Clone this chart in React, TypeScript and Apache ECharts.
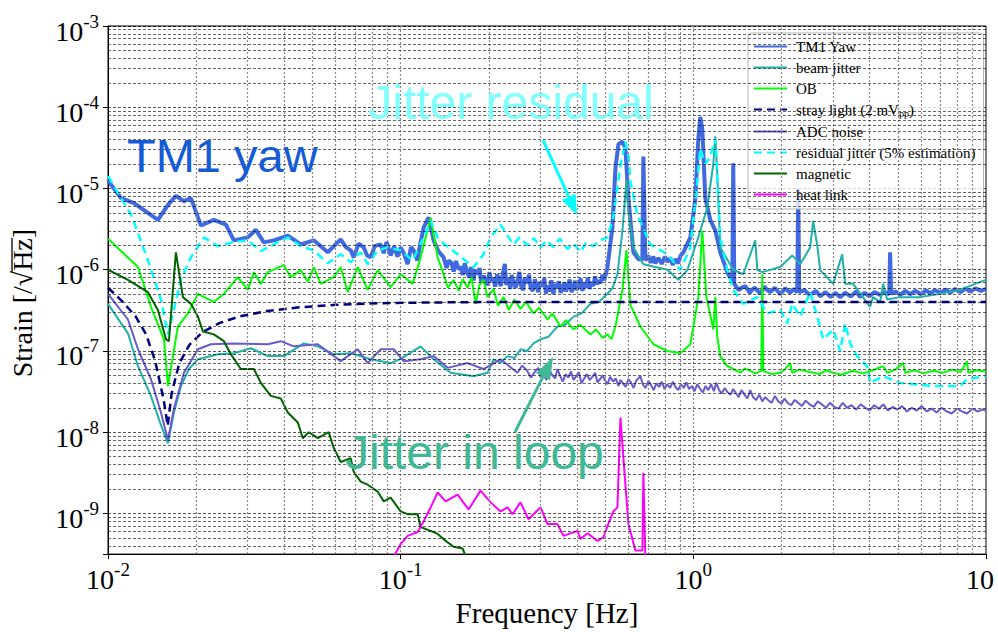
import React, { useEffect, useRef } from 'react';
import * as echarts from 'echarts';

// ---------------- data (frequency [Hz], strain [1/sqrt(Hz)]) ----------------
const tm1Yaw: [number, number][] = [
  [0.01, 1.25e-5], [0.01108, 7.6e-6], [0.01227, 6.6e-6], [0.01481, 4.1e-6], [0.01603, 6.3e-6],
  [0.01706, 8.1e-6], [0.01817, 7.0e-6], [0.0192, 7.6e-6], [0.02077, 3.5e-6], [0.023, 4.1e-6],
  [0.02528, 3.6e-6], [0.02692, 2.3e-6], [0.03005, 2.5e-6], [0.032, 3.1e-6], [0.03407, 2.17e-6],
  [0.03686, 2.3e-6], [0.04115, 2.63e-6], [0.04558, 2.05e-6], [0.05048, 2.3e-6], [0.05635, 1.64e-6],
  [0.0624, 2.36e-6], [0.065, 1.9e-6], [0.06751, 1.73e-6], [0.06911, 1.42e-6], [0.0718, 2.1e-6],
  [0.0748, 1.88e-6], [0.0768, 1.5e-6], [0.07898, 1.42e-6], [0.0815, 1.95e-6], [0.08545, 2.05e-6],
  [0.0875, 1.6e-6], [0.0895, 2.2e-6], [0.09245, 1.5e-6], [0.095, 1.95e-6], [0.0975, 1.45e-6],
  [0.1, 1.88e-6], [0.1025, 1.6e-6], [0.1056, 1.17e-6], [0.1085, 1.9e-6], [0.1108, 1.73e-6],
  [0.114, 1.3e-6], [0.117, 2.2e-6], [0.1198, 3.3e-6], [0.1246, 4.4e-6], [0.1296, 2.3e-6],
  [0.1345, 1.7e-6], [0.1402, 1.42e-6], [0.1435, 1.05e-6], [0.146, 1.3e-6], [0.149, 1.22e-6],
  [0.1517, 9.5e-7], [0.1545, 1.28e-6], [0.158, 1.0e-6], [0.16, 1.1e-6], [0.163, 8.6e-7],
  [0.1655, 1.2e-6], [0.169, 9.2e-7], [0.1715, 8.0e-7], [0.174, 1.08e-6], [0.1775, 7.4e-7],
  [0.1795, 9.8e-7], [0.183, 8.8e-7], [0.186, 1.05e-6], [0.1885, 7.0e-7], [0.192, 8.4e-7],
  [0.1945, 7.8e-7], [0.198, 6.4e-7], [0.201, 9.3e-7], [0.2045, 7.1e-7], [0.207, 8.0e-7],
  [0.2105, 6.2e-7], [0.2135, 8.8e-7], [0.2165, 7.6e-7], [0.22, 6.3e-7], [0.2235, 9.0e-7],
  [0.227, 1.18e-6], [0.2295, 6.5e-7], [0.233, 7.8e-7], [0.237, 5.8e-7], [0.2395, 8.6e-7],
  [0.243, 7.0e-7], [0.247, 6.0e-7], [0.2505, 7.3e-7], [0.2545, 9.4e-7], [0.2575, 6.4e-7],
  [0.262, 5.6e-7], [0.2655, 7.9e-7], [0.27, 6.8e-7], [0.2745, 8.7e-7], [0.278, 6.0e-7],
  [0.283, 5.5e-7], [0.2875, 7.6e-7], [0.291, 6.6e-7], [0.2955, 5.3e-7], [0.3, 7.1e-7],
  [0.305, 6.2e-7], [0.3095, 7.9e-7], [0.3135, 5.1e-7], [0.318, 6.4e-7], [0.323, 5.4e-7],
  [0.327, 7.4e-7], [0.3325, 5.0e-7], [0.3375, 6.7e-7], [0.342, 5.9e-7], [0.347, 7.2e-7],
  [0.352, 5.2e-7], [0.357, 5.8e-7], [0.3625, 7.0e-7], [0.367, 5.4e-7], [0.3725, 6.3e-7],
  [0.378, 7.6e-7], [0.3835, 5.3e-7], [0.389, 6.1e-7], [0.3945, 7.3e-7], [0.4, 5.6e-7],
  [0.406, 6.6e-7], [0.412, 7.8e-7], [0.418, 5.5e-7], [0.424, 6.9e-7], [0.43, 6.0e-7],
  [0.436, 8.0e-7], [0.4425, 5.8e-7], [0.449, 7.1e-7], [0.455, 6.3e-7], [0.4615, 8.3e-7],
  [0.468, 6.6e-7], [0.475, 7.4e-7], [0.482, 6.8e-7], [0.489, 8.7e-7], [0.496, 7.4e-7],
  [0.503, 9.0e-7], [0.5087, 1.08e-6], [0.529, 3.3e-6], [0.5418, 1.77e-5], [0.5546, 3.5e-5],
  [0.5724, 3.77e-5], [0.5861, 3.1e-5], [0.6, 7.6e-6], [0.624, 1.64e-6], [0.649, 1.35e-6],
  [0.6697, 1.35e-6], [0.675, 2.48e-5], [0.6857, 1.3e-6], [0.7, 1.5e-6], [0.715, 1.22e-6],
  [0.73, 1.45e-6], [0.7419, 1.2e-6], [0.76, 1.4e-6], [0.78, 1.18e-6], [0.8, 1.45e-6],
  [0.8153, 1.25e-6], [0.835, 1.4e-6], [0.85, 1.15e-6], [0.87, 1.35e-6], [0.8888, 1.2e-6],
  [0.905, 1.5e-6], [0.9245, 1.64e-6], [0.9768, 2.5e-6], [1.016, 7.6e-6], [1.04, 4.1e-5],
  [1.056, 7.6e-5], [1.073, 5.4e-5], [1.099, 7.6e-6], [1.143, 4.1e-6], [1.189, 3.03e-6],
  [1.236, 1.64e-6], [1.306, 9.35e-7], [1.359, 7.1e-7], [1.369, 2.04e-5], [1.38, 6.7e-7],
  [1.4, 6.2e-7], [1.43, 5.6e-7], [1.45, 5.9e-7], [1.505, 6.3e-7], [1.56, 5.2e-7],
  [1.59, 5.7e-7], [1.62, 6.0e-7], [1.693, 5.1e-7], [1.75, 6.2e-7], [1.79, 5.6e-7],
  [1.831, 5.3e-7], [1.9, 6.0e-7], [1.981, 5.0e-7], [2.02, 5.4e-7], [2.06, 5.9e-7],
  [2.143, 5.2e-7], [2.2, 5.8e-7], [2.265, 5.3e-7], [2.282, 1.01e-5], [2.3, 5.3e-7],
  [2.4, 5.6e-7], [2.45, 5.2e-7], [2.507, 4.9e-7], [2.62, 5.5e-7], [2.72, 4.7e-7],
  [2.822, 5.3e-7], [2.88, 5.0e-7], [2.95, 4.6e-7], [3.05, 5.2e-7], [3.175, 4.6e-7],
  [3.3, 5.2e-7], [3.45, 4.7e-7], [3.52, 5.0e-7], [3.6, 5.4e-7], [3.715, 4.6e-7],
  [3.85, 5.2e-7], [4.0, 4.7e-7], [4.15, 5.3e-7], [4.347, 4.9e-7], [4.5, 5.3e-7],
  [4.67, 5.0e-7], [4.703, 1.64e-6], [4.74, 5.05e-7], [4.9, 5.4e-7], [5.1, 4.9e-7],
  [5.3, 5.5e-7], [5.504, 5.0e-7], [5.75, 5.5e-7], [6.0, 5.0e-7], [6.25, 5.6e-7],
  [6.44, 5.1e-7], [6.7, 5.6e-7], [7.0, 5.2e-7], [7.3, 5.7e-7], [7.536, 5.2e-7],
  [7.85, 5.8e-7], [8.2, 5.3e-7], [8.5, 5.9e-7], [8.82, 5.4e-7], [9.2, 5.9e-7],
  [9.6, 5.5e-7], [10, 5.8e-7],
];

const beamJitter: [number, number][] = [
  [0.01, 3.8e-7], [0.0117, 1.65e-7], [0.01266, 6.5e-8], [0.01402, 2.8e-8], [0.01517, 1.22e-8],
  [0.01603, 7.3e-9], [0.0168, 1.75e-8], [0.01775, 3.7e-8], [0.0189, 6.0e-8], [0.02029, 7.9e-8],
  [0.02374, 9.1e-8], [0.02692, 9.4e-8], [0.03077, 1.08e-7], [0.03516, 8.65e-8], [0.03988, 8.65e-8],
  [0.04667, 1.24e-7], [0.05209, 1.14e-7], [0.05906, 9.1e-8], [0.06751, 9.4e-8], [0.07898, 7.9e-8],
  [0.09245, 7.1e-8], [0.1, 8.0e-8], [0.117, 1.14e-7], [0.1296, 7.9e-8], [0.1481, 5.4e-8],
  [0.1775, 4.9e-8], [0.1982, 5.4e-8], [0.2077, 7.9e-8], [0.22, 7.2e-8], [0.2318, 8.65e-8],
  [0.245, 8.2e-8], [0.2567, 1.05e-7], [0.27, 1.0e-7], [0.285, 1.25e-7], [0.3005, 1.39e-7],
  [0.32, 1.5e-7], [0.3434, 2.0e-7], [0.365, 2.1e-7], [0.3895, 2.65e-7], [0.415, 2.9e-7],
  [0.4452, 3.8e-7], [0.475, 4.0e-7], [0.5087, 5.05e-7], [0.53, 6.0e-7], [0.5504, 8.8e-7],
  [0.5724, 3.0e-6], [0.5907, 1.25e-5], [0.6, 5.0e-6], [0.624, 1.88e-6], [0.675, 1.17e-6],
  [0.8153, 1.0e-6], [0.8888, 7.5e-7], [0.9539, 9.9e-7], [1.032, 2.3e-6], [1.056, 3.03e-6],
  [1.116, 5.8e-6], [1.17, 2.0e-5], [1.189, 4.4e-5], [1.207, 1.5e-5], [1.236, 1.88e-6],
  [1.369, 1.0e-6], [1.481, 8.8e-7], [1.628, 2.3e-6], [1.654, 9.9e-7], [1.72, 9.35e-7],
  [1.981, 1.08e-6], [2.177, 1.5e-6], [2.318, 1.17e-6], [2.507, 1.88e-6], [2.567, 4.0e-6],
  [2.65, 2.0e-6], [2.713, 9.9e-7], [3.005, 6.7e-7], [3.225, 1.55e-6], [3.302, 6.7e-7],
  [3.516, 6.7e-7], [4.019, 3.5e-7], [4.115, 4.6e-7], [4.347, 4.0e-7], [4.452, 6.7e-7],
  [4.593, 4.3e-7], [5.087, 4.6e-7], [5.953, 4.6e-7], [6.966, 5.05e-7], [8.153, 5.65e-7],
  [9.174, 6.7e-7], [10, 7.5e-7],
];

const obNoise: [number, number][] = [
  [0.01, 2.4e-6], [0.01266, 1.08e-6], [0.01402, 3.5e-7], [0.01553, 1.39e-7], [0.01603, 3.7e-8],
  [0.01733, 2.0e-7], [0.01875, 2.9e-7], [0.02029, 5.05e-7], [0.023, 4.0e-7], [0.02489, 5.05e-7],
  [0.02778, 8.1e-7], [0.03005, 5.65e-7], [0.0315, 9.35e-7], [0.03328, 6.7e-7], [0.03516, 9.35e-7],
  [0.03988, 1.14e-6], [0.04212, 8.1e-7], [0.04558, 9.9e-7], [0.04815, 7.1e-7], [0.05048, 1.08e-6],
  [0.05333, 6.7e-7], [0.05906, 8.1e-7], [0.0624, 1.08e-6], [0.06594, 5.3e-7], [0.06911, 8.1e-7],
  [0.07133, 1.08e-6], [0.07715, 5.65e-7], [0.08346, 9.9e-7], [0.09245, 6.1e-7], [0.1, 8.8e-7],
  [0.1099, 6.7e-7], [0.117, 1.42e-6], [0.1266, 4.36e-6], [0.1338, 1.42e-6], [0.1402, 8.8e-7],
  [0.145, 6.0e-7], [0.1517, 7.5e-7], [0.158, 5.5e-7], [0.163, 7.7e-7], [0.1693, 6.0e-7],
  [0.1745, 8.1e-7], [0.1803, 3.8e-7], [0.186, 6.5e-7], [0.192, 7.5e-7], [0.198, 4.6e-7],
  [0.2077, 5.8e-7], [0.215, 3.6e-7], [0.2246, 4.6e-7], [0.234, 3.2e-7], [0.245, 4.3e-7],
  [0.2567, 3.3e-7], [0.268, 4.0e-7], [0.2844, 2.9e-7], [0.297, 3.4e-7], [0.3175, 2.44e-7],
  [0.33, 2.9e-7], [0.3516, 2.0e-7], [0.367, 2.4e-7], [0.3895, 1.84e-7], [0.41, 2.1e-7],
  [0.4452, 1.6e-7], [0.465, 1.85e-7], [0.49, 1.45e-7], [0.5087, 1.6e-7], [0.525, 1.4e-7],
  [0.5418, 2.0e-7], [0.5724, 5.65e-7], [0.5907, 1.75e-6], [0.6095, 3.7e-7], [0.6592, 2.0e-7],
  [0.7303, 1.21e-7], [0.8153, 1.0e-7], [0.9029, 9.4e-8], [0.9768, 1.21e-7], [1.04, 4.6e-7],
  [1.073, 3.03e-6], [1.108, 4.6e-7], [1.17, 1.84e-7], [1.189, 4.6e-7], [1.207, 1.5e-7],
  [1.236, 8.65e-8], [1.3, 6.6e-8], [1.369, 6.0e-8], [1.45, 5.4e-8], [1.5, 6.1e-8],
  [1.565, 5.7e-8], [1.63, 5.3e-8], [1.707, 5.7e-8], [1.72, 8.8e-7], [1.734, 5.7e-8],
  [1.85, 5.2e-8], [1.981, 5.4e-8], [2.05, 5.9e-8], [2.143, 7.1e-8], [2.177, 5.4e-8],
  [2.3, 5.9e-8], [2.5, 5.5e-8], [2.7, 5.2e-8], [2.85, 5.8e-8], [3.0, 5.4e-8],
  [3.2, 5.1e-8], [3.5, 5.7e-8], [3.8, 5.3e-8], [4.1, 5.8e-8], [4.452, 6.5e-8],
  [4.6, 5.4e-8], [4.9, 5.9e-8], [5.209, 7.1e-8], [5.29, 5.4e-8], [5.7, 5.8e-8],
  [6.1, 5.3e-8], [6.592, 5.7e-8], [7.1, 5.4e-8], [7.7, 5.9e-8], [8.2, 5.5e-8],
  [8.612, 7.5e-8], [8.7, 5.4e-8], [9.3, 5.8e-8], [10, 5.6e-8],
];

const strayLight: [number, number][] = [
  [0.01, 6.0e-7], [0.0111, 4.2e-7], [0.0124, 2.7e-7], [0.0135, 1.6e-7], [0.0145, 7.5e-8],
  [0.0155, 2.5e-8], [0.016, 1.2e-8], [0.0165, 3.0e-8], [0.0175, 7.0e-8], [0.019, 1.2e-7],
  [0.021, 1.7e-7], [0.024, 2.2e-7], [0.028, 2.65e-7], [0.035, 3.1e-7], [0.045, 3.45e-7],
  [0.06, 3.7e-7], [0.08, 3.85e-7], [0.12, 3.95e-7], [0.2, 4.0e-7], [10, 4.0e-7],
];

const adcNoise: [number, number][] = [
  [0.01, 5.05e-7], [0.0117, 2.44e-7], [0.01266, 1.05e-7], [0.01402, 4.5e-8], [0.01517, 1.75e-8],
  [0.01603, 8.0e-9], [0.0168, 1.96e-8], [0.01817, 5.4e-8], [0.02029, 1.05e-7], [0.02246, 1.21e-7],
  [0.02692, 1.24e-7], [0.03516, 1.21e-7], [0.03895, 1.32e-7], [0.04313, 1.14e-7], [0.05209, 1.21e-7],
  [0.0624, 7.5e-8], [0.07133, 1.05e-7], [0.07715, 7.1e-8], [0.08545, 1.05e-7], [0.09465, 1.05e-7],
  [0.1024, 7.5e-8], [0.117, 7.9e-8], [0.1296, 8.65e-8], [0.1447, 6.2e-8], [0.1693, 7.1e-8],
  [0.192, 6.0e-8], [0.2194, 7.9e-8], [0.2507, 5.4e-8], [0.26, 6.6e-8], [0.27, 5.8e-8],
  [0.2785, 4.7e-8], [0.287, 5.5e-8], [0.295, 6.2e-8], [0.3005, 4.8e-8], [0.307, 5.1e-8],
  [0.315, 4.4e-8], [0.322, 5.9e-8], [0.33, 5.0e-8], [0.337, 4.6e-8], [0.3434, 6.0e-8],
  [0.351, 4.9e-8], [0.358, 4.2e-8], [0.366, 5.2e-8], [0.374, 4.7e-8], [0.382, 5.6e-8],
  [0.3895, 4.4e-8], [0.398, 4.9e-8], [0.406, 5.5e-8], [0.415, 4.0e-8], [0.424, 4.6e-8],
  [0.433, 5.2e-8], [0.442, 4.4e-8], [0.452, 4.8e-8], [0.462, 5.4e-8], [0.4703, 4.1e-8],
  [0.48, 4.5e-8], [0.49, 5.0e-8], [0.5, 4.3e-8], [0.5087, 3.9e-8], [0.52, 4.8e-8],
  [0.532, 4.2e-8], [0.543, 4.6e-8], [0.555, 3.7e-8], [0.5635, 4.4e-8], [0.575, 4.0e-8],
  [0.587, 3.6e-8], [0.6, 4.5e-8], [0.612, 4.1e-8], [0.625, 3.5e-8], [0.638, 4.3e-8],
  [0.6592, 4.9e-8], [0.672, 3.9e-8], [0.686, 3.5e-8], [0.702, 4.3e-8], [0.717, 3.8e-8],
  [0.732, 3.3e-8], [0.748, 4.0e-8], [0.764, 3.6e-8], [0.78, 4.2e-8], [0.797, 3.4e-8],
  [0.8153, 3.9e-8], [0.833, 3.5e-8], [0.851, 4.2e-8], [0.869, 3.6e-8], [0.888, 3.3e-8],
  [0.907, 3.9e-8], [0.927, 3.5e-8], [0.947, 4.1e-8], [0.967, 3.4e-8], [0.988, 3.7e-8],
  [1.01, 3.2e-8], [1.032, 3.9e-8], [1.056, 3.4e-8], [1.078, 3.1e-8], [1.1, 3.7e-8],
  [1.125, 3.3e-8], [1.15, 3.9e-8], [1.175, 3.2e-8], [1.198, 4.05e-8], [1.225, 3.3e-8],
  [1.25, 3.0e-8], [1.28, 3.5e-8], [1.31, 3.1e-8], [1.34, 2.9e-8], [1.369, 3.4e-8],
  [1.4, 3.0e-8], [1.43, 2.7e-8], [1.46, 3.3e-8], [1.495, 2.9e-8], [1.53, 2.6e-8],
  [1.565, 3.3e-8], [1.6, 2.7e-8], [1.64, 2.5e-8], [1.68, 2.9e-8], [1.72, 2.4e-8],
  [1.76, 2.7e-8], [1.8, 2.5e-8], [1.85, 2.3e-8], [1.9, 2.8e-8], [1.95, 2.4e-8],
  [2.0, 2.25e-8], [2.05, 2.6e-8], [2.1, 2.3e-8], [2.16, 2.15e-8], [2.22, 2.5e-8],
  [2.28, 2.3e-8], [2.35, 2.1e-8], [2.42, 2.45e-8], [2.5, 2.2e-8], [2.58, 2.05e-8],
  [2.66, 2.4e-8], [2.75, 2.2e-8], [2.84, 2.0e-8], [2.93, 2.3e-8], [3.03, 2.05e-8],
  [3.13, 1.95e-8], [3.24, 2.3e-8], [3.35, 2.0e-8], [3.47, 2.15e-8], [3.6, 1.9e-8],
  [3.73, 2.2e-8], [3.87, 2.0e-8], [4.0, 1.85e-8], [4.15, 2.15e-8], [4.3, 1.95e-8],
  [4.46, 2.2e-8], [4.62, 1.85e-8], [4.8, 2.05e-8], [4.98, 1.9e-8], [5.17, 2.1e-8],
  [5.37, 1.8e-8], [5.58, 2.0e-8], [5.8, 1.85e-8], [6.03, 2.1e-8], [6.27, 1.8e-8],
  [6.52, 1.95e-8], [6.78, 1.75e-8], [7.05, 2.0e-8], [7.34, 1.8e-8], [7.64, 1.7e-8],
  [7.95, 1.95e-8], [8.28, 1.8e-8], [8.62, 1.7e-8], [8.98, 1.95e-8], [9.35, 1.8e-8],
  [9.7, 1.9e-8], [10, 1.85e-8],
];

const residualJitter: [number, number][] = [
  [0.01, 1.42e-5], [0.012, 4.75e-6], [0.01369, 1.31e-6], [0.01517, 4.3e-7], [0.01603, 1.6e-7],
  [0.01667, 2.9e-7], [0.01775, 7.6e-7], [0.0192, 1.42e-6], [0.02127, 2.5e-6], [0.02374, 1.95e-6],
  [0.02692, 2.2e-6], [0.03005, 2.3e-6], [0.03328, 1.7e-6], [0.03686, 2.05e-6], [0.04115, 2.5e-6],
  [0.04558, 1.95e-6], [0.05048, 1.73e-6], [0.05635, 1.2e-6], [0.0624, 1.55e-6], [0.06751, 1.24e-6],
  [0.07303, 1.64e-6], [0.07715, 1.17e-6], [0.08346, 1.73e-6], [0.09029, 1.88e-6], [0.1, 1.73e-6],
  [0.1099, 1.3e-6], [0.1198, 2.5e-6], [0.1266, 4.0e-6], [0.1338, 2.5e-6], [0.1402, 2.1e-6],
  [0.1565, 1.55e-6], [0.1775, 1.07e-6], [0.192, 1.55e-6], [0.2029, 2.5e-6], [0.2194, 3.6e-6],
  [0.2318, 2.63e-6], [0.243, 2.05e-6], [0.255, 2.5e-6], [0.2714, 2.0e-6], [0.285, 2.45e-6],
  [0.3005, 1.88e-6], [0.315, 2.3e-6], [0.3328, 1.9e-6], [0.35, 2.4e-6], [0.3715, 1.8e-6],
  [0.39, 2.1e-6], [0.4115, 1.65e-6], [0.43, 2.15e-6], [0.4558, 1.95e-6], [0.48, 2.3e-6],
  [0.5087, 2.5e-6], [0.5333, 4.6e-6], [0.5635, 1.93e-5], [0.5861, 3.77e-5], [0.6, 2.5e-5],
  [0.6095, 1.23e-5], [0.6439, 4.75e-6], [0.7133, 2.05e-6], [0.8153, 1.55e-6], [0.9029, 9.9e-7],
  [0.9768, 1.88e-6], [1.032, 1.23e-5], [1.056, 3.1e-5], [1.1, 2.0e-5], [1.143, 2.5e-5],
  [1.189, 4.1e-5], [1.236, 2.5e-6], [1.306, 9.9e-7], [1.369, 5.65e-7], [1.481, 3.8e-7],
  [1.654, 4.6e-7], [1.789, 2.9e-7], [1.981, 3.2e-7], [2.093, 2.18e-7], [2.177, 3.8e-7],
  [2.318, 2.65e-7], [2.507, 5.3e-7], [2.65, 2.65e-7], [2.778, 1.39e-7], [3.005, 1.84e-7],
  [3.175, 1.0e-7], [3.302, 2.18e-7], [3.434, 1.24e-7], [3.628, 8.65e-8], [3.925, 6.5e-8],
  [4.019, 4.05e-8], [4.452, 4.9e-8], [5.087, 4.05e-8], [6.592, 3.7e-8], [8.153, 3.7e-8],
  [8.612, 4.5e-8], [10, 4.9e-8],
];

const magnetic: [number, number][] = [
  [0.01, 1.0e-6], [0.0117, 7.5e-7], [0.01369, 5.3e-7], [0.01481, 3.2e-7], [0.01578, 1.39e-7],
  [0.01615, 1.32e-7], [0.01706, 1.64e-6], [0.01803, 4.6e-7], [0.0192, 3.8e-7], [0.02029, 2.65e-7],
  [0.0211, 1.74e-7], [0.023, 1.6e-7], [0.02489, 1.32e-7], [0.02629, 9.1e-8], [0.02844, 6.0e-8],
  [0.0315, 6.0e-8], [0.03328, 4.05e-8], [0.036, 2.8e-8], [0.03895, 2.6e-8], [0.04115, 1.75e-8],
  [0.04452, 1.32e-8], [0.0463, 8.45e-9], [0.04853, 1.0e-8], [0.05209, 8.45e-9], [0.0568, 1.0e-8],
  [0.05906, 6.4e-9], [0.0624, 4.3e-9], [0.06751, 4.8e-9], [0.06911, 3.26e-9], [0.07303, 2.47e-9],
  [0.07715, 2.26e-9], [0.08346, 1.86e-9], [0.08749, 1.41e-9], [0.09245, 1.57e-9], [0.1, 1.06e-9],
  [0.1056, 9.8e-10], [0.1143, 9.8e-10], [0.117, 6.8e-10], [0.1266, 6.1e-10], [0.1338, 5.6e-10],
  [0.1425, 4.6e-10], [0.1517, 3.9e-10], [0.1628, 3.7e-10], [0.168, 2.8e-10],
];

const heatLink: [number, number][] = [
  [0.0939, 2.8e-10], [0.1, 4.2e-10], [0.1056, 5.3e-10], [0.1143, 5.9e-10], [0.1198, 8.0e-10],
  [0.1266, 1.19e-9], [0.1338, 1.81e-9], [0.1425, 1.41e-9], [0.1565, 1.71e-9], [0.1706, 1.12e-9],
  [0.1875, 1.91e-9], [0.2029, 1.37e-9], [0.2194, 1.06e-9], [0.2318, 1.19e-9], [0.2411, 9.8e-10],
  [0.2567, 1.37e-9], [0.2735, 8.5e-10], [0.3005, 1.19e-9], [0.3175, 7.4e-10], [0.3434, 7.4e-10],
  [0.36, 5.3e-10], [0.4019, 6.1e-10], [0.4115, 4.85e-10], [0.4347, 5.7e-10], [0.4703, 4.6e-10],
  [0.493, 5.1e-10], [0.5087, 7.0e-10], [0.5333, 1.06e-9], [0.5504, 1.19e-9], [0.5635, 1.52e-8],
  [0.5769, 4.8e-9], [0.6, 7.4e-10], [0.6339, 3.5e-10], [0.6697, 3.5e-10], [0.675, 3.17e-9],
  [0.6857, 2.8e-10],
];

const seriesNames = [
  'TM1 Yaw', 'beam jitter', 'OB', 'stray light (2 mVpp)', 'ADC noise',
  'residual jitter (5% estimation)', 'magnetic', 'heat link',
];
const seriesData = [tm1Yaw, beamJitter, obNoise, strayLight, adcNoise, residualJitter, magnetic, heatLink];
const seriesColors = ['#4169e1', '#20b2aa', '#00ff00', '#000080', '#6a5acd', '#00ffff', '#006400', '#ff00ff'];
const seriesWidths = [4, 2, 2, 2.5, 2, 2.5, 2, 2];
const seriesDashed = [false, false, false, true, false, true, false, false];

const xRange = [0.01, 10];
const yRange = [Math.pow(10, -9.5), 1e-3];

const SERIF = "'Liberation Serif', 'Times New Roman', serif";
const SANS = "'Liberation Sans', Arial, sans-serif";

function minorValues(e0: number, e1: number, lo: number, hi: number): number[] {
  const out: number[] = [];
  for (let e = e0; e <= e1; e++) {
    for (let k = 2; k <= 9; k++) {
      const v = k * Math.pow(10, e);
      if (v > lo * 1.0001 && v < hi * 0.9999) out.push(v);
    }
  }
  return out;
}

function arrow(x1: number, y1: number, x2: number, y2: number, color: string, headLen: number, headW: number) {
  const dx = x2 - x1;
  const dy = y2 - y1;
  const len = Math.sqrt(dx * dx + dy * dy);
  const ux = dx / len;
  const uy = dy / len;
  const bx = x2 - ux * headLen;
  const by = y2 - uy * headLen;
  const px = -uy;
  const py = ux;
  return [
    { type: 'line', shape: { x1, y1, x2: bx, y2: by }, style: { stroke: color, lineWidth: 3 }, z: 50, silent: true },
    {
      type: 'polygon',
      shape: { points: [[x2, y2], [bx + px * headW / 2, by + py * headW / 2], [bx - px * headW / 2, by - py * headW / 2]] },
      style: { fill: color },
      z: 50,
      silent: true,
    },
  ];
}

const richLabel = {
  base: { fontFamily: SERIF, fontSize: 28, color: '#000', padding: [10, 0, 0, 0] },
  sup: { fontFamily: SERIF, fontSize: 19, color: '#000', padding: [0, 0, 10, 0] },
  last: { fontFamily: SERIF, fontSize: 28, color: '#000', padding: [10, 12, 0, 0] },
};

function expLabel(v: number, lastPlain: boolean): string {
  const e = Math.log10(v);
  const r = Math.round(e);
  if (Math.abs(e - r) > 1e-6) return '';
  if (lastPlain && r === 1) return '{last|10}';
  return `{base|10}{sup|${r}}`;
}

export default function App() {
  const ref = useRef<HTMLDivElement>(null);

  useEffect(() => {
    if (!ref.current) return;
    const chart = echarts.init(ref.current, null, { renderer: 'svg' });

    const yMinor = minorValues(-10, -4, yRange[0], yRange[1]);
    const xMinor = minorValues(-2, 0, xRange[0], xRange[1]);

    const series: any[] = [
      {
        name: '__grid',
        type: 'line',
        data: [],
        z: 1,
        silent: true,
        markLine: {
          silent: true,
          precision: 20,
          symbol: ['none', 'none'],
          animation: false,
          label: { show: false },
          emphasis: { disabled: true },
          data: [
            ...xMinor.map((v) => ({ xAxis: v, lineStyle: { color: '#8a8a8a', type: [2, 2], width: 1.2 } })),
            ...yMinor.map((v) => ({ yAxis: v, lineStyle: { color: '#000', type: [3, 2], width: 0.7, opacity: 0.85 } })),
          ],
        },
      },
    ];
    seriesNames.forEach((name, i) => {
      series.push({
        name,
        type: 'line',
        data: seriesData[i],
        symbol: 'none',
        z: 2,
        silent: true,
        clip: true,
        lineStyle: {
          color: seriesColors[i],
          width: seriesWidths[i],
          type: seriesDashed[i] ? [8, 5] : 'solid',
        },
        itemStyle: { color: seriesColors[i] },
        emphasis: { disabled: true },
      });
    });

    const graphic: any[] = [
      {
        type: 'text', x: 127, y: 155, z: 50, silent: true,
        style: { text: 'TM1 yaw', font: `47px ${SANS}`, fill: '#155bd5', align: 'left', verticalAlign: 'middle' },
      },
      {
        type: 'text', x: 368, y: 102, z: 50, silent: true,
        style: { text: 'Jitter residual', font: `48px ${SANS}`, fill: '#80ffff', align: 'left', verticalAlign: 'middle' },
      },
      {
        type: 'text', x: 345, y: 452, z: 50, silent: true,
        style: { text: 'Jitter in loop', font: `48px ${SANS}`, fill: '#40b896', align: 'left', verticalAlign: 'middle' },
      },
      ...arrow(543, 140, 577, 215, '#00ffff', 20, 15),
      ...arrow(515, 432, 553, 357, '#40b896', 22, 16),
      {
        type: 'line', z: 50, silent: true,
        shape: { x1: 12, y1: 272, x2: 12, y2: 238 },
        style: { stroke: '#000', lineWidth: 1.3 },
      },
    ];

    chart.setOption({
      animation: false,
      backgroundColor: '#fff',
      grid: { left: 107, right: 12, top: 26, bottom: 71, show: true, borderColor: '#000', borderWidth: 1, backgroundColor: 'transparent' },
      legend: {
        show: true,
        orient: 'vertical',
        left: 748,
        top: 33,
        padding: [6, 8, 7, 5],
        itemGap: 6,
        itemWidth: 33,
        itemHeight: 14,
        backgroundColor: 'rgba(255,255,255,0.8)',
        borderColor: '#b5b5b5',
        borderWidth: 1,
        borderRadius: 4,
        data: seriesNames,
        selectedMode: false,
        itemStyle: { opacity: 0 },
        formatter: (name: string) =>
          name === 'stray light (2 mVpp)' ? '{n|stray light (2 mV}{sub|pp}{n|)}' : name,
        textStyle: {
          fontFamily: SERIF,
          fontSize: 15,
          color: '#000',
          padding: [0, 0, 0, 4],
          rich: {
            n: { fontFamily: SERIF, fontSize: 15, color: '#000' },
            sub: { fontFamily: SERIF, fontSize: 10, color: '#000', padding: [7, 0, 0, 0] },
          },
        },
      },
      xAxis: {
        type: 'log',
        logBase: 10,
        min: xRange[0],
        max: xRange[1],
        name: 'Frequency [Hz]',
        nameLocation: 'middle',
        nameGap: 31,
        nameTextStyle: { fontFamily: SERIF, fontSize: 29, color: '#000' },
        axisLine: { show: true, onZero: false, lineStyle: { color: '#000', width: 1 } },
        axisTick: { show: true, inside: false, length: 5, lineStyle: { color: '#000' } },
        axisLabel: {
          margin: 1,
          fontFamily: SERIF,
          fontSize: 28,
          color: '#000',
          showMinLabel: true,
          showMaxLabel: true,
          formatter: (v: number) => expLabel(v, true),
          rich: richLabel,
        },
        splitLine: { show: true, lineStyle: { color: '#8a8a8a', type: [2, 2], width: 1.2 } },
      },
      yAxis: {
        type: 'log',
        logBase: 10,
        min: yRange[0],
        max: yRange[1],
        name: 'Strain [/√Hz]',
        nameLocation: 'middle',
        nameRotate: 90,
        nameGap: 72,
        nameTextStyle: { fontFamily: SERIF, fontSize: 28, color: '#000', padding: [0, 26, 0, 0] },
        axisLine: { show: true, onZero: false, lineStyle: { color: '#000', width: 1 } },
        axisTick: { show: true, inside: false, length: 5, lineStyle: { color: '#000' } },
        axisLabel: {
          margin: 9,
          fontFamily: SERIF,
          fontSize: 28,
          color: '#000',
          showMinLabel: true,
          showMaxLabel: true,
          formatter: (v: number) => expLabel(v, false),
          rich: richLabel,
        },
        splitLine: { show: true, lineStyle: { color: '#000', type: [3, 2], width: 0.8, opacity: 0.85 } },
      },
      graphic,
      series,
    });

    return () => {
      chart.dispose();
    };
  }, []);

  return (
    <div
      ref={ref}
      style={{ position: 'fixed', left: 0, top: 0, width: 998, height: 632, background: '#fff' }}
    />
  );
}
